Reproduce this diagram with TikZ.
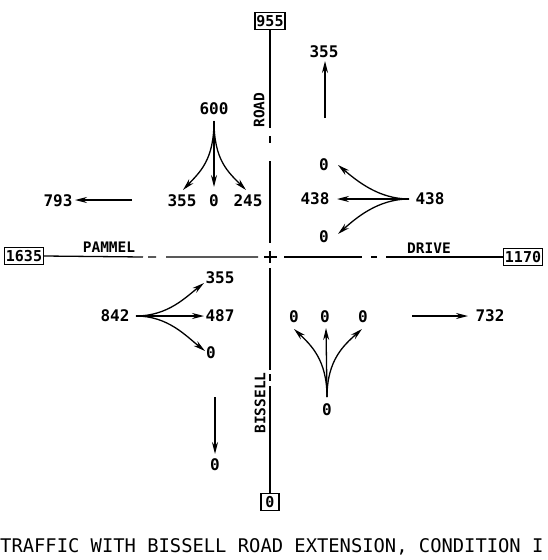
\documentclass[tikz,border=0pt]{standalone}
\usepackage{fontspec}
\setmonofont{DejaVu Sans Mono}
\usetikzlibrary{arrows.meta}
\begin{document}
\begin{tikzpicture}[x=1pt,y=-1pt,
  road/.style={line width=1.3pt},
  flow/.style={line width=1.3pt,-{Stealth[length=12pt,width=6pt]}},
  num/.style={font=\fontsize{16}{16}\selectfont\ttfamily\bfseries,inner sep=0pt},
  lbl/.style={font=\fontsize{14.5}{14.5}\selectfont\ttfamily\bfseries,inner sep=0pt},
  tot/.style={draw,line width=1.2pt,font=\fontsize{15}{15}\selectfont\ttfamily\bfseries,inner xsep=1.5pt,inner ysep=3pt},
  ttl/.style={font=\fontsize{18.8}{18.8}\selectfont\ttfamily,inner sep=0pt}]
\useasboundingbox (0,0) rectangle (548,560);

% approach totals
\node[tot] (tN) at (270,21) {955};
\node[tot] (tW) at (24,256) {1635};
\node[tot] (tE) at (523,257) {1170};
\node[tot,minimum width=18pt] (tS) at (270,502) {0};

% street names
\node[lbl,rotate=90] (road) at (259,110) {ROAD};
\node[lbl,rotate=90] (bissell) at (260,403) {BISSELL};
\node[lbl] (pammel) at (109,247) {PAMMEL};
\node[lbl] (drive) at (429,248) {DRIVE};

% centre lines
\draw[road] (tN.south) -- (270,128) (270,136) -- (270,143) (270,161) -- (270,243);
\draw[road] (270,251) -- (270,263) (264,257) -- (277,257);
\draw[road] (270,268) -- (270,370) (270,374) -- (270,381) (270,386) -- (tS.north);
\draw[road] (tW.east) -- (143,257) (148,257) -- (156,257) (166,257) -- (258,257);
\draw[road] (284,257) -- (362,257) (371,257) -- (377,257) (386,257) -- (tE.west);

% southbound approach (from north)
\node[num] (n600) at (214,109) {600};
\node[num] (n355a) at (182,201) {355};
\node[num] (n0a) at (214,201) {0};
\node[num] (n245) at (248,201) {245};
\coordinate (oN) at (214,121);
\draw[flow] (oN) -- (214,187);
\draw[flow] (oN) .. controls (214,160) and (200,172) .. (183,190);
\draw[flow] (oN) .. controls (214,160) and (228,172) .. (246,190);

% westbound departure
\node[num] (n793) at (58,201) {793};
\coordinate (w1) at (132,200);
\coordinate (w2) at (75,200);
\draw[flow] (w1) -- (w2);

% northbound departure
\node[num] (n355b) at (324,52) {355};
\coordinate (n1) at (325,118);
\coordinate (n2) at (325,61);
\draw[flow] (n1) -- (n2);

% westbound approach (from east)
\node[num] (n438r) at (430,199) {438};
\node[num] (n438l) at (315,199) {438};
\node[num] (n0b) at (324,165) {0};
\node[num] (n0c) at (324,237) {0};
\coordinate (oE) at (409,199);
\draw[flow] (oE) -- (337,199);
\draw[flow] (oE) .. controls (378,199) and (356,180) .. (338,165);
\draw[flow] (oE) .. controls (378,199) and (356,218) .. (338,234);

% eastbound approach (from west)
\node[num] (n842) at (115,316) {842};
\node[num] (n355c) at (220,278) {355};
\node[num] (n487) at (220,316) {487};
\node[num] (n0d) at (211,353) {0};
\coordinate (oW) at (136,316);
\draw[flow] (oW) -- (204,316);
\draw[flow] (oW) .. controls (168,316) and (186,297) .. (204,283);
\draw[flow] (oW) .. controls (168,316) and (186,336) .. (205,351);

% southbound departure
\node[num] (n0e) at (215,465) {0};
\coordinate (s1) at (215,397);
\coordinate (s2) at (215,454);
\draw[flow] (s1) -- (s2);

% northbound approach (from south)
\node[num] (n0f) at (294,317) {0};
\node[num] (n0g) at (325,317) {0};
\node[num] (n0h) at (363,317) {0};
\node[num] (n0i) at (327,410) {0};
\coordinate (oS) at (327,397);
\draw[flow] (oS) -- (326,328);
\draw[flow] (oS) .. controls (327,360) and (311,345) .. (294,329);
\draw[flow] (oS) .. controls (327,360) and (344,345) .. (362,329);

% eastbound departure
\node[num] (n732) at (490,316) {732};
\coordinate (e1) at (412,316);
\coordinate (e2) at (468,316);
\draw[flow] (e1) -- (e2);

% caption
\node[ttl,anchor=west] (title) at (0,547) {TRAFFIC WITH BISSELL ROAD EXTENSION, CONDITION I};
\end{tikzpicture}
\end{document}
